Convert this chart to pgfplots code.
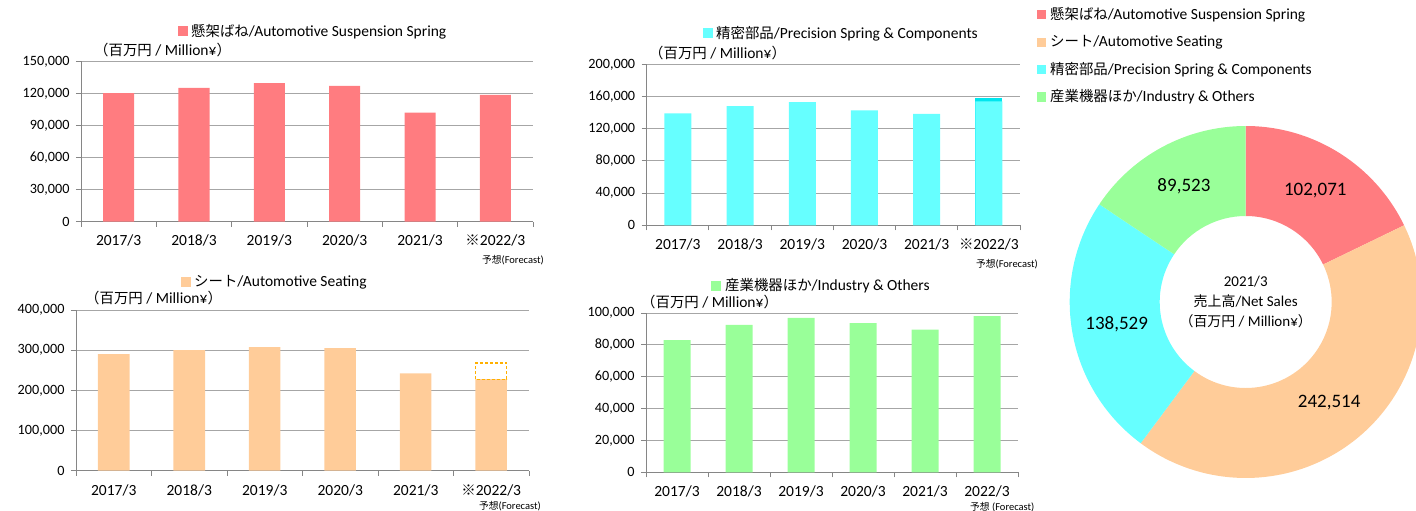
\documentclass[border=0pt]{standalone}
\usepackage{pgfplots}
\pgfplotsset{compat=1.18}
\usepackage{fontspec}
\setmainfont{Carlito}
\newfontfamily\cjk[Scale=0.93]{Noto Sans CJK JP}

\definecolor{redc}{HTML}{FF7C80}
\definecolor{orangec}{HTML}{FFCC99}
\definecolor{cyanc}{HTML}{66FFFF}
\definecolor{cyand}{HTML}{00E6EE}
\definecolor{greenc}{HTML}{99FF99}
\definecolor{dashc}{HTML}{FFB000}
\definecolor{axisgray}{HTML}{868686}
\definecolor{gridgray}{HTML}{A6A6A6}

\newcommand{\fs}[2]{\fontsize{#1}{#2}\selectfont}

\pgfplotsset{
  bc/.style={
    scale only axis, anchor=south west,
    xmin=-0.5, xmax=5.5, ymin=0,
    enlargelimits=false,
    axis lines*=left,
    axis line style={draw=axisgray, line width=0.9pt},
    ymajorgrids, grid style={draw=gridgray, line width=0.9pt},
    ybar, bar shift=0pt,
    xtick={0,...,5},
    minor xtick={-0.5,0.5,...,5.5},
    major x tick style={draw=none},
    minor x tick style={draw=axisgray, line width=0.9pt},
    ytick style={draw=axisgray, line width=0.9pt},
    tick align=outside, major tick length=5pt, minor tick length=5pt,
    scaled y ticks=false,
    yticklabel style={font=\fs{14.2}{16}, xshift=-3pt,
      /pgf/number format/.cd, fixed, 1000 sep={,}, assume math mode=true},
    xticklabel style={font=\fs{15.5}{17}, yshift=-5pt},
    xticklabels={2017/3,2018/3,2019/3,2020/3,2021/3,{\cjk ※}2022/3},
  }
}

% donut data (thousand million yen)
\def\vA{102.071}% suspension
\def\vB{242.514}% seating
\def\vC{138.529}% precision
\def\vD{89.523}%  industry

\begin{document}
\begin{tikzpicture}
\path[use as bounding box] (0pt,0pt) rectangle (1416pt,-511pt);

% ---------- Chart 1: Suspension ----------
\begin{axis}[bc, at={(81pt,-221.5pt)}, width=452pt, height=160pt,
  ymax=150000, ytick={0,30000,...,150000}, bar width=31pt]
\addplot[fill=redc, draw=none] coordinates {(0,120400)(1,125300)(2,129700)(3,127200)(4,102071)(5,118800)};
\end{axis}
\fill[redc] (178pt,-26pt) rectangle (188pt,-36pt);
\node[anchor=west, inner sep=0pt, font=\fs{15.5}{17}] at (191pt,-31.5pt) {{\cjk 懸架ばね}/Automotive Suspension Spring};
\node[anchor=west, inner sep=0pt, font=\fs{15.5}{17}] at (94pt,-50pt) {{\cjk （百万円} / Million¥{\cjk ）}};
\node[anchor=east, inner sep=0pt, font=\fs{10.5}{12}] at (544pt,-260pt) {{\cjk 予想}(Forecast)};

% ---------- Chart 2: Precision ----------
\begin{axis}[bc, at={(646.7pt,-225.3pt)}, width=373.3pt, height=161pt,
  ymax=200000, ytick={0,40000,...,200000}, bar width=27pt]
\addplot[fill=cyand, draw=none] coordinates {(5,157800)};
\addplot[fill=cyanc, draw=none] coordinates {(0,139100)(1,147900)(2,152900)(3,142900)(4,138529)(5,154000)};
\end{axis}
\fill[cyanc] (703pt,-28pt) rectangle (713pt,-38pt);
\node[anchor=west, inner sep=0pt, font=\fs{15.5}{17}] at (716pt,-33.5pt) {{\cjk 精密部品}/Precision Spring \& Components};
\node[anchor=west, inner sep=0pt, font=\fs{15.5}{17}] at (649pt,-53pt) {{\cjk （百万円} / Million¥{\cjk ）}};
\node[anchor=east, inner sep=0pt, font=\fs{10.5}{12}] at (1038pt,-264pt) {{\cjk 予想}(Forecast)};

% ---------- Chart 3: Seating ----------
\begin{axis}[bc, at={(76pt,-470.7pt)}, width=453pt, height=160.7pt,
  ymax=400000, ytick={0,100000,...,400000}, bar width=31.5pt]
\addplot[fill=orangec, draw=none] coordinates {(0,290400)(1,300400)(2,307800)(3,305400)(4,242514)(5,228000)};
\addplot[sharp plot, mark=none, fill=white, draw=dashc, dash pattern=on 3pt off 2pt, line width=1.2pt]
  coordinates {(4.796,228000)(4.796,268000)(5.204,268000)(5.204,228000)} -- cycle;
\end{axis}
\fill[orangec] (181pt,-277pt) rectangle (191pt,-287pt);
\node[anchor=west, inner sep=0pt, font=\fs{15.5}{17}] at (194pt,-282pt) {{\cjk シート}/Automotive Seating};
\node[anchor=west, inner sep=0pt, font=\fs{15.5}{17}] at (85pt,-298pt) {{\cjk （百万円} / Million¥{\cjk ）}};
\node[anchor=east, inner sep=0pt, font=\fs{10.5}{12}] at (541pt,-506pt) {{\cjk 予想}(Forecast)};

% ---------- Chart 4: Industry ----------
\begin{axis}[bc, at={(646pt,-472.3pt)}, width=372pt, height=159.3pt,
  ymax=100000, ytick={0,20000,...,100000}, bar width=27pt,
  xticklabels={2017/3,2018/3,2019/3,2020/3,2021/3,2022/3}]
\addplot[fill=greenc, draw=none] coordinates {(0,83000)(1,92500)(2,96900)(3,93700)(4,89523)(5,98100)};
\end{axis}
\fill[greenc] (711pt,-281pt) rectangle (721pt,-291pt);
\node[anchor=west, inner sep=0pt, font=\fs{15.5}{17}] at (725pt,-286pt) {{\cjk 産業機器ほか}/Industry \& Others};
\node[anchor=west, inner sep=0pt, font=\fs{15.5}{17}] at (641pt,-302pt) {{\cjk （百万円} / Million¥{\cjk ）}};
\begin{scope}
\clip (900pt,-490pt) rectangle (1040pt,-515pt);
\node[anchor=west, inner sep=0pt, font=\fs{10.5}{12}] at (970pt,-507pt) {{\cjk 予想} (Forecast)};
\end{scope}

% ---------- Legend ----------
\fill[redc]    (1037pt,-10pt) rectangle (1046pt,-19.5pt);
\fill[orangec] (1037pt,-38pt) rectangle (1046pt,-47.5pt);
\fill[cyanc]   (1037pt,-65pt) rectangle (1046pt,-74.5pt);
\fill[greenc]  (1037pt,-92pt) rectangle (1046pt,-101.5pt);
\node[anchor=west, inner sep=0pt, font=\fs{15.5}{17}] at (1050pt,-14.7pt) {{\cjk 懸架ばね}/Automotive Suspension Spring};
\node[anchor=west, inner sep=0pt, font=\fs{15.5}{17}] at (1050pt,-42.7pt) {{\cjk シート}/Automotive Seating};
\node[anchor=west, inner sep=0pt, font=\fs{15.5}{17}] at (1050pt,-69.7pt) {{\cjk 精密部品}/Precision Spring \& Components};
\node[anchor=west, inner sep=0pt, font=\fs{15.5}{17}] at (1050pt,-96.7pt) {{\cjk 産業機器ほか}/Industry \& Others};

% ---------- Donut ----------
\pgfmathsetmacro\tot{\vA+\vB+\vC+\vD}
\pgfmathsetmacro\k{360/\tot}
\pgfmathsetmacro\tA{90}
\pgfmathsetmacro\tB{\tA-\k*\vA}
\pgfmathsetmacro\tC{\tB-\k*\vB}
\pgfmathsetmacro\tD{\tC-\k*\vC}
\pgfmathsetmacro\tE{-270}
\def\ri{0.48864}
\def\rm{0.7443}
\foreach \n/\t in {A/\tA,B/\tB,C/\tC,D/\tD,E/\tE}{
  \pgfmathsetmacro\cx{cos(\t)}\pgfmathsetmacro\cy{sin(\t)}
  \expandafter\xdef\csname ox\n\endcsname{\cx}
  \expandafter\xdef\csname oy\n\endcsname{\cy}
  \pgfmathsetmacro\cx{\ri*cos(\t)}\pgfmathsetmacro\cy{\ri*sin(\t)}
  \expandafter\xdef\csname ix\n\endcsname{\cx}
  \expandafter\xdef\csname iy\n\endcsname{\cy}
}
\foreach \n/\a/\b in {A/\tA/\tB,B/\tB/\tC,C/\tC/\tD,D/\tD/\tE}{
  \pgfmathsetmacro\mm{(\a+\b)/2}
  \pgfmathsetmacro\cx{\rm*cos(\mm)}\pgfmathsetmacro\cy{\rm*sin(\mm)}
  \expandafter\xdef\csname lx\n\endcsname{\cx}
  \expandafter\xdef\csname ly\n\endcsname{\cy}
}
\begin{axis}[hide axis, scale only axis, clip=false, width=352pt, height=352pt,
  xmin=-1, xmax=1, ymin=-1, ymax=1, anchor=center, at={(1245.7pt,-302pt)}]
\fill[redc] (axis cs:\oxA,\oyA) arc[start angle=\tA, end angle=\tB, radius=176pt]
  -- (axis cs:\ixB,\iyB) arc[start angle=\tB, end angle=\tA, radius=86pt] -- cycle;
\fill[orangec] (axis cs:\oxB,\oyB) arc[start angle=\tB, end angle=\tC, radius=176pt]
  -- (axis cs:\ixC,\iyC) arc[start angle=\tC, end angle=\tB, radius=86pt] -- cycle;
\fill[cyanc] (axis cs:\oxC,\oyC) arc[start angle=\tC, end angle=\tD, radius=176pt]
  -- (axis cs:\ixD,\iyD) arc[start angle=\tD, end angle=\tC, radius=86pt] -- cycle;
\fill[greenc] (axis cs:\oxD,\oyD) arc[start angle=\tD, end angle=\tE, radius=176pt]
  -- (axis cs:\ixE,\iyE) arc[start angle=\tE, end angle=\tD, radius=86pt] -- cycle;
\node[font=\fs{19}{21}] at (axis cs:\lxA,\lyA) {102,071};
\node[font=\fs{19}{21}] at (axis cs:\lxB,\lyB) {242,514};
\node[font=\fs{19}{21}] at (axis cs:\lxC,\lyC) {138,529};
\node[font=\fs{19}{21}] at (axis cs:\lxD,\lyD) {89,523};
\node[font=\fs{15}{20}, align=center] at (axis cs:0,0) {2021/3\\{\cjk 売上高}/Net Sales\\{\cjk （百万円} / Million¥{\cjk ）}};
\end{axis}

\node[font=\fs{16}{18}, text=red!70] at (1262pt,-522pt) {{\cjk ※予想値}(Forecast)};
\end{tikzpicture}
\end{document}
